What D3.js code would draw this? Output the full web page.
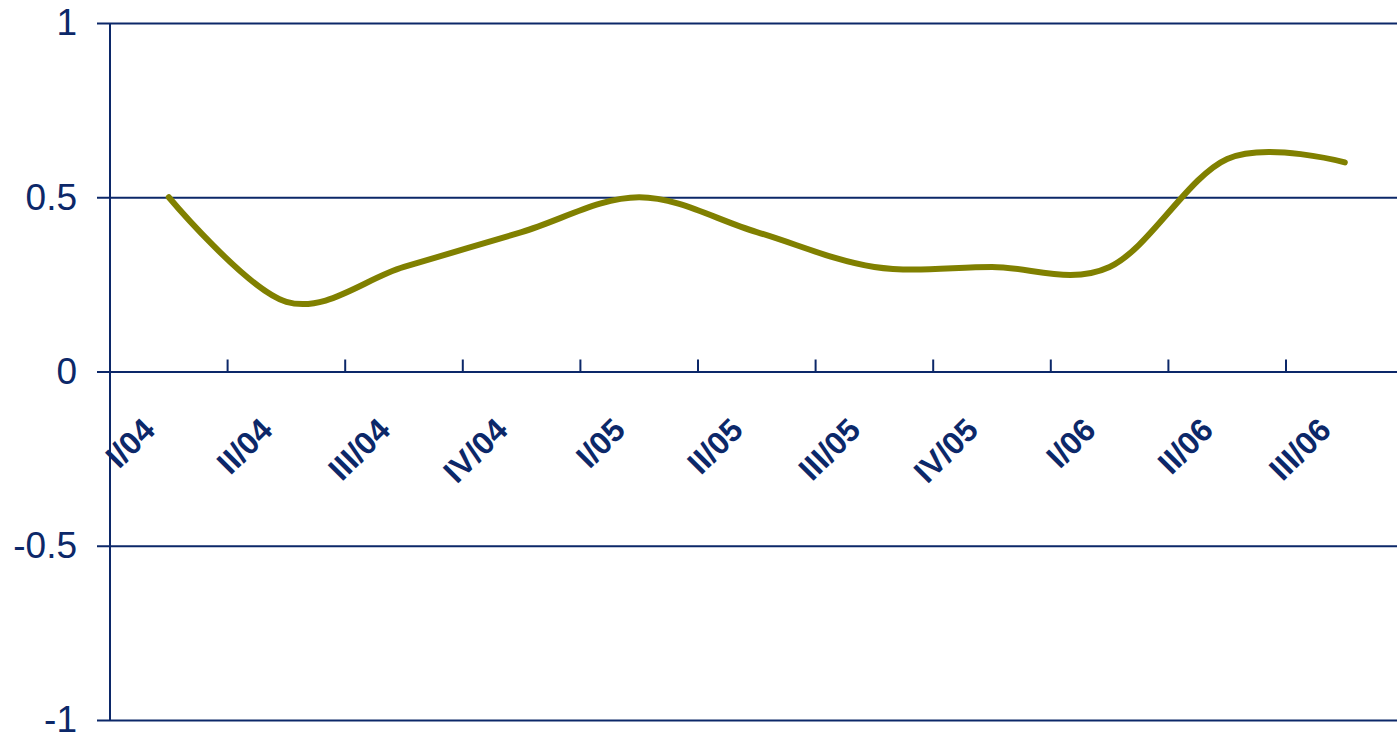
<!DOCTYPE html>
<html lang="en">
<head>
    <meta charset="UTF-8">
    <title>Quarterly line</title>
    <script src="https://d3js.org/d3.v7.min.js"></script>
    <style>
        body { margin: 0; background: #fff; }
        svg { display: block; }
    </style>
</head>
<body>
    <div id="chart"></div>
    <script>
        const quarters = ["I/04", "II/04", "III/04", "IV/04", "I/05", "II/05", "III/05", "IV/05", "I/06", "II/06", "III/06"];
        const values = [0.50, 0.20, 0.30, 0.40, 0.50, 0.40, 0.30, 0.30, 0.30, 0.61, 0.60];
        const yTicks = [1, 0.5, 0, -0.5, -1];

        const width = 1397, height = 736;
        const navy = "#0c2869";

        const svg = d3.select("#chart").append("svg")
            .attr("width", width)
            .attr("height", height);

        // last category boundary falls just past the right edge, as in the picture
        const x = d3.scaleBand()
            .domain(quarters)
            .range([110, 1403.6])
            .padding(0);

        const y = d3.scaleLinear()
            .domain([-1, 1])
            .range([720, 23]);

        // horizontal gridlines + y labels
        const yAxis = d3.axisLeft(y)
            .tickValues(yTicks)
            .tickSize(-(width - 97))
            .tickPadding(20)
            .tickFormat(d => d);

        const gy = svg.append("g")
            .attr("transform", "translate(97,0)")
            .call(yAxis);
        gy.select(".domain").remove();
        gy.selectAll("line").attr("stroke", navy).attr("stroke-width", 2);
        gy.selectAll("text")
            .attr("fill", navy)
            .attr("x", -20)
            .style("font-family", "Liberation Sans, Arial, sans-serif")
            .style("font-size", "37px");

        // vertical axis line
        svg.append("line")
            .attr("x1", 110).attr("x2", 110)
            .attr("y1", y(1)).attr("y2", y(-1))
            .attr("stroke", navy)
            .attr("stroke-width", 2);

        // category tick marks on the zero line (between categories)
        const bounds = quarters.map(q => x(q)).concat([x(quarters[quarters.length - 1]) + x.bandwidth()]);
        svg.append("g").selectAll("line")
            .data(bounds)
            .join("line")
            .attr("x1", d => d).attr("x2", d => d)
            .attr("y1", y(0) - 12).attr("y2", y(0))
            .attr("stroke", navy)
            .attr("stroke-width", 2);

        // rotated category labels
        svg.append("g").selectAll("text")
            .data(quarters)
            .join("text")
            .attr("transform", d => `translate(${x(d) + x.bandwidth() / 2 - 12},432) rotate(-45)`)
            .attr("text-anchor", "end")
            .attr("fill", navy)
            .style("font-family", "Liberation Sans, Arial, sans-serif")
            .style("font-weight", "bold")
            .style("font-size", "32px")
            .text(d => d);

        // smoothed series line
        const line = d3.line()
            .x((d, i) => x(quarters[i]) + x.bandwidth() / 2)
            .y(d => y(d))
            .curve(d3.curveCardinal.tension(0));

        svg.append("path")
            .datum(values)
            .attr("d", line)
            .attr("fill", "none")
            .attr("stroke", "#808000")
            .attr("stroke-width", 6)
            .attr("stroke-linecap", "round")
            .attr("stroke-linejoin", "round");
    </script>
</body>
</html>
